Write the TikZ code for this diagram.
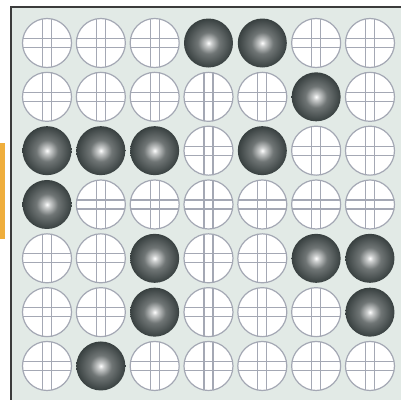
\documentclass[tikz,border=0pt]{standalone}
\usetikzlibrary{positioning}
\definecolor{boardbg}{HTML}{E2EAE6}
\definecolor{frameline}{HTML}{3C3C3C}
\definecolor{holeline}{HTML}{A4A8B4}
\definecolor{tabcol}{HTML}{EFAE3C}
\definecolor{stonedark}{HTML}{384040}
\colorlet{stonemid}{white!28!stonedark}
\colorlet{stonelight}{white!75!stonedark}
\pgfdeclareradialshading{stone}{\pgfpoint{0bp}{0bp}}{color(0bp)=(white); color(3bp)=(stonelight); color(11bp)=(stonemid); color(25bp)=(stonedark); color(50bp)=(stonedark)}
\tikzset{
  hole/.style={circle, draw=holeline, fill=white, line width=0.9pt,
    minimum size=36.75pt, inner sep=0pt,
    path picture={
      \foreach \d in {-3.4pt,3.4pt}{
        \draw[holeline, line width=0.9pt] ([xshift=\d]path picture bounding box.north) -- ([xshift=\d]path picture bounding box.south);
        \draw[holeline, line width=0.9pt] ([yshift=\d]path picture bounding box.west) -- ([yshift=\d]path picture bounding box.east);
      }}},
  stone/.style={circle, shading=stone, minimum size=36.75pt, inner sep=0pt}
}
\begin{document}
\begin{tikzpicture}[x=0.75pt, y=-0.75pt]
  \useasboundingbox (0,0) rectangle (401,400);
  % board
  \fill[boardbg] (11,7) rectangle (401,400);
  \draw[frameline, line width=1.5pt] (11,400) -- (11,7) -- (401,7);
  \fill[tabcol] (0,143) rectangle (5,239);
  % holes and stones
  \foreach \row [count=\r] in {{0,0,0,1,1,0,0},{0,0,0,0,0,1,0},{1,1,1,0,1,0,0},
      {1,0,0,0,0,0,0},{0,0,1,0,0,1,1},{0,0,1,0,0,0,1},{0,1,0,0,0,0,0}}{
    \foreach \v [count=\c] in \row {
      \ifnum\v=1
        \node[stone] (p-\r-\c) at ({47+53.83*(\c-1)},{43+53.83*(\r-1)}) {};
      \else
        \node[hole] (p-\r-\c) at ({47+53.83*(\c-1)},{43+53.83*(\r-1)}) {};
      \fi
    }
  }
\end{tikzpicture}
\end{document}
